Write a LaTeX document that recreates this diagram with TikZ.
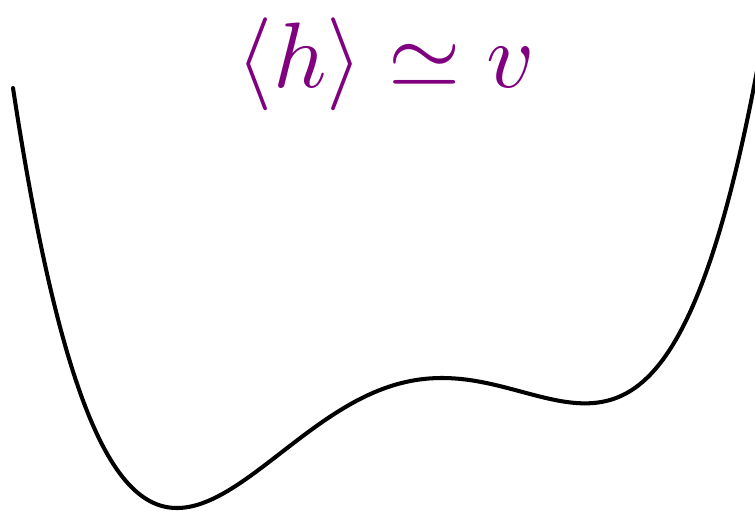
\documentclass[tikz,border=0pt]{standalone}
\definecolor{labelpurple}{RGB}{128,0,128}
\tikzset{
  potential/.style={line width=2.3pt, black, line cap=round, line join=round},
  vevlabel/.style={text=labelpurple, scale=5.29, inner sep=0pt, anchor=base}
}
\begin{document}
\begin{tikzpicture}[x=0.02cm,y=-0.02cm,
  declare function={
    Qf(\w)=\w*\w*(\w*\w/4 + 0.406667*\w - 1.89475);
    If(\w)=\w*\w*(\w*\w*\w*\w/6 + 0.62*\w*\w*\w - 0.153075*\w*\w - 2.01543*\w - 1.6742);
    Vf(\w)=15.153*Qf(\w) + 0.1016*If(\w);
  }]
\useasboundingbox (0,0) rectangle (755,511);
\node[vevlabel] (lbl) at (386,87) {$\langle h\rangle \simeq v$};
\draw[potential] plot[domain=-4.29:3.16, samples=300, variable=\w, smooth]
  ({442+100*\w}, {378-Vf(\w)});
\end{tikzpicture}
\end{document}
